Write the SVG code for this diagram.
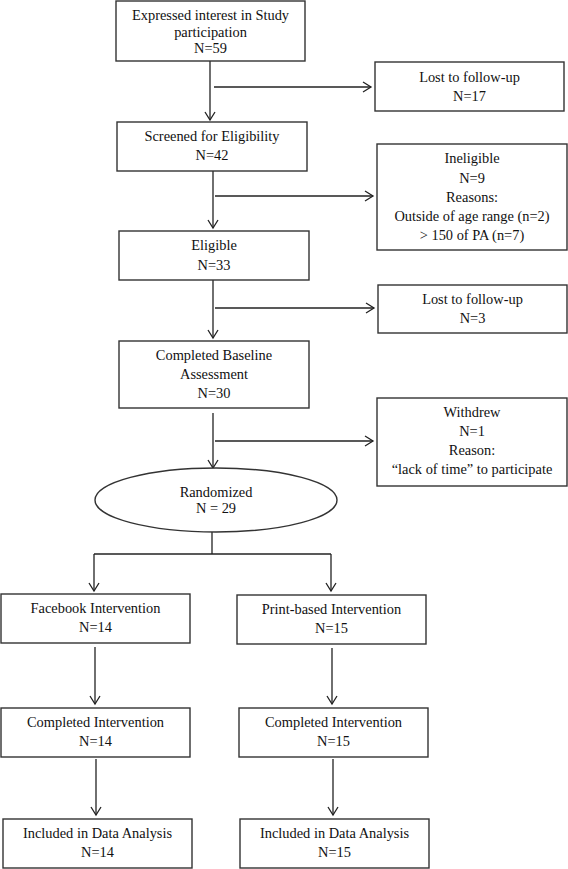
<svg xmlns="http://www.w3.org/2000/svg" width="568" height="869" viewBox="0 0 568 869">
<style>
.box{fill:#fff;stroke:#333;stroke-width:1.4}
.t{font-family:'Liberation Serif','DejaVu Serif',Times,serif;font-size:14.4px;fill:#111;text-anchor:middle}
.c{fill:none;stroke:#222;stroke-width:1.3}
</style>
<defs>
<marker id="ah" markerWidth="12" markerHeight="12" refX="9" refY="6" orient="auto" markerUnits="userSpaceOnUse">
<polyline points="1,1 9,6 1,11" fill="none" stroke="#222" stroke-width="1.3"/>
</marker>
</defs>
<rect width="568" height="869" fill="#fff"/>
<g id="connectors">
<line class="c" x1="210" y1="61" x2="210" y2="120" marker-end="url(#ah)"/>
<line class="c" x1="214" y1="87" x2="371" y2="87" marker-end="url(#ah)"/>
<line class="c" x1="213" y1="171" x2="213" y2="228" marker-end="url(#ah)"/>
<line class="c" x1="215" y1="196" x2="373" y2="196" marker-end="url(#ah)"/>
<line class="c" x1="213" y1="280" x2="213" y2="338" marker-end="url(#ah)"/>
<line class="c" x1="215" y1="308" x2="374" y2="308" marker-end="url(#ah)"/>
<line class="c" x1="213" y1="413" x2="213" y2="468" marker-end="url(#ah)"/>
<line class="c" x1="215" y1="441" x2="373" y2="441" marker-end="url(#ah)"/>
<polyline class="c" points="212,532 212,554"/>
<polyline class="c" points="94,554 331,554"/>
<line class="c" x1="94" y1="554" x2="94" y2="591" marker-end="url(#ah)"/>
<line class="c" x1="331" y1="554" x2="331" y2="591" marker-end="url(#ah)"/>
<line class="c" x1="95" y1="647" x2="95" y2="704" marker-end="url(#ah)"/>
<line class="c" x1="332" y1="648" x2="332" y2="704" marker-end="url(#ah)"/>
<line class="c" x1="96" y1="759" x2="96" y2="815" marker-end="url(#ah)"/>
<line class="c" x1="333" y1="759" x2="333" y2="815" marker-end="url(#ah)"/>
</g>
<g font-family="Liberation Serif, serif">
<g id="n-expressed">
<rect class="box" x="116" y="1" width="189" height="60"/>
<text class="t" x="210.5" y="20">Expressed interest in Study</text>
<text class="t" x="210.5" y="37">participation</text>
<text class="t" x="210.5" y="53">N=59</text>
</g>
<g id="n-lost1">
<rect class="box" x="375" y="62" width="189" height="49"/>
<text class="t" x="469.5" y="82">Lost to follow-up</text>
<text class="t" x="469.5" y="101">N=17</text>
</g>
<g id="n-screened">
<rect class="box" x="117" y="122" width="190" height="49"/>
<text class="t" x="212" y="141">Screened for Eligibility</text>
<text class="t" x="212" y="160">N=42</text>
</g>
<g id="n-ineligible">
<rect class="box" x="377" y="144" width="190" height="106"/>
<text class="t" x="472" y="163">Ineligible</text>
<text class="t" x="472" y="183">N=9</text>
<text class="t" x="472" y="202">Reasons:</text>
<text class="t" x="472" y="221">Outside of age range (n=2)</text>
<text class="t" x="472" y="240">&gt; 150 of PA (n=7)</text>
</g>
<g id="n-eligible">
<rect class="box" x="119" y="231" width="190" height="49"/>
<text class="t" x="214" y="250">Eligible</text>
<text class="t" x="214" y="270">N=33</text>
</g>
<g id="n-lost2">
<rect class="box" x="378" y="285" width="189" height="48"/>
<text class="t" x="472.5" y="304">Lost to follow-up</text>
<text class="t" x="472.5" y="323">N=3</text>
</g>
<g id="n-baseline">
<rect class="box" x="119" y="341" width="190" height="67"/>
<text class="t" x="214" y="360">Completed Baseline</text>
<text class="t" x="214" y="379">Assessment</text>
<text class="t" x="214" y="398">N=30</text>
</g>
<g id="n-withdrew">
<rect class="box" x="377" y="398" width="190" height="88"/>
<text class="t" x="472" y="417">Withdrew</text>
<text class="t" x="472" y="436">N=1</text>
<text class="t" x="472" y="455">Reason:</text>
<text class="t" x="472" y="474">“lack of time” to participate</text>
</g>
<g id="n-randomized">
<ellipse class="box" cx="216" cy="500" rx="121" ry="32"/>
<text class="t" x="216" y="497">Randomized</text>
<text class="t" x="216" y="513">N = 29</text>
</g>
<g id="n-facebook">
<rect class="box" x="1" y="594" width="189" height="49"/>
<text class="t" x="95.5" y="613">Facebook Intervention</text>
<text class="t" x="95.5" y="632">N=14</text>
</g>
<g id="n-print">
<rect class="box" x="237" y="595" width="189" height="49"/>
<text class="t" x="331.5" y="614">Print-based Intervention</text>
<text class="t" x="331.5" y="633">N=15</text>
</g>
<g id="n-completed-left">
<rect class="box" x="1" y="708" width="189" height="49"/>
<text class="t" x="95.5" y="727">Completed Intervention</text>
<text class="t" x="95.5" y="746">N=14</text>
</g>
<g id="n-completed-right">
<rect class="box" x="239" y="708" width="189" height="49"/>
<text class="t" x="333.5" y="727">Completed Intervention</text>
<text class="t" x="333.5" y="746">N=15</text>
</g>
<g id="n-included-left">
<rect class="box" x="3" y="819" width="189" height="49"/>
<text class="t" x="97.5" y="838">Included in Data Analysis</text>
<text class="t" x="97.5" y="857">N=14</text>
</g>
<g id="n-included-right">
<rect class="box" x="240" y="819" width="189" height="49"/>
<text class="t" x="334.5" y="838">Included in Data Analysis</text>
<text class="t" x="334.5" y="857">N=15</text>
</g>
</g>
</svg>
